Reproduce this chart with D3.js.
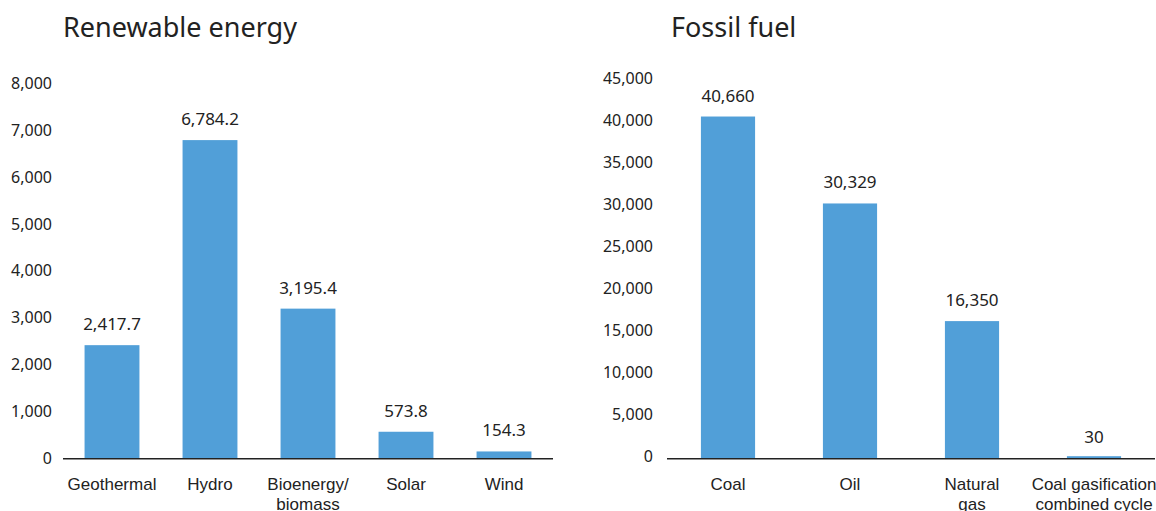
<!DOCTYPE html>
<html>
<head>
<meta charset="utf-8">
<script src="https://cdn.jsdelivr.net/npm/d3@7"></script>
<style>
  html, body { margin: 0; padding: 0; background: #fff; }
  svg { display: block; font-family: "Noto Sans", "Open Sans", sans-serif; }
</style>
</head>
<body>
<svg id="chart" width="1156" height="511"></svg>
<script>
// Installed capacity by source
const renewableCategories = ["Geothermal", "Hydro", "Bioenergy/\nbiomass", "Solar", "Wind"];
const renewableValues = [2417.7, 6784.2, 3195.4, 573.8, 154.3];
const renewableTicks = [0, 1000, 2000, 3000, 4000, 5000, 6000, 7000, 8000];

const fossilCategories = ["Coal", "Oil", "Natural\ngas", "Coal gasification\ncombined cycle"];
const fossilValues = [40660, 30329, 16350, 30];
const fossilTicks = [0, 5000, 10000, 15000, 20000, 25000, 30000, 35000, 40000, 45000];

const barColor = "#519fd8";
const textColor = "#222";
const minBarHeight = 2.5; // keep tiny values visible above the baseline

const svg = d3.select("#chart");

function panel(cfg) {
  const g = svg.append("g");

  const x = d3.scaleBand()
    .domain(cfg.categories)
    .range([cfg.x0, cfg.x1])
    .paddingInner(cfg.padInner)
    .paddingOuter(cfg.padInner / 2);

  const y = d3.scaleLinear()
    .domain([0, cfg.max])
    .range([cfg.yBase, cfg.yTop]);

  const barH = d => Math.max(y(0) - y(d), d > 0 ? minBarHeight : 0);

  // title
  g.append("text")
    .attr("x", cfg.titleX)
    .attr("y", 37)
    .attr("font-size", 27)
    .attr("fill", textColor)
    .text(cfg.title);

  // y axis labels (no axis line, no ticks)
  const yAxis = d3.axisLeft(y)
    .tickValues(cfg.ticks)
    .tickFormat(d3.format(","))
    .tickSize(0)
    .tickPadding(0);
  const ya = g.append("g")
    .attr("transform", `translate(${cfg.labelX},0)`)
    .call(yAxis);
  ya.select(".domain").remove();
  ya.selectAll("text")
    .attr("font-family", "'Noto Sans', 'Open Sans', sans-serif")
    .attr("font-size", 16)
    .attr("fill", textColor)
    .attr("dy", cfg.tickDy);

  // bars
  g.selectAll("rect.bar")
    .data(cfg.values)
    .join("rect")
    .attr("class", "bar")
    .attr("x", (d, i) => x(cfg.categories[i]))
    .attr("width", x.bandwidth())
    .attr("y", d => y(0) - barH(d))
    .attr("height", d => barH(d))
    .attr("fill", barColor);

  // value labels
  g.selectAll("text.value")
    .data(cfg.values)
    .join("text")
    .attr("class", "value")
    .attr("x", (d, i) => x(cfg.categories[i]) + x.bandwidth() / 2)
    .attr("y", d => y(d) - 15)
    .attr("text-anchor", "middle")
    .attr("font-size", 17)
    .attr("fill", textColor)
    .text(d => cfg.fmt(d));

  // baseline
  g.append("line")
    .attr("x1", cfg.x0)
    .attr("x2", cfg.x1)
    .attr("y1", y(0))
    .attr("y2", y(0))
    .attr("stroke", "#222")
    .attr("stroke-width", 1.5);

  // category labels
  const xAxis = d3.axisBottom(x).tickSize(0).tickPadding(0).tickFormat("");
  const xa = g.append("g")
    .attr("transform", `translate(0,${y(0)})`)
    .call(xAxis);
  xa.select(".domain").remove();
  xa.selectAll(".tick").each(function (d) {
    const t = d3.select(this).append("text")
      .attr("text-anchor", "middle")
      .attr("font-size", 17)
      .attr("fill", textColor);
    d.split("\n").forEach((line, i) => {
      t.append("tspan")
        .attr("x", 0)
        .attr("y", 31 + i * 20)
        .text(line);
    });
  });
}

panel({
  title: "Renewable energy",
  titleX: 63,
  categories: renewableCategories,
  values: renewableValues,
  ticks: renewableTicks,
  max: 8000,
  x0: 63, x1: 553,
  padInner: 0.44,
  yBase: 458.7, yTop: 83,
  labelX: 52,
  tickDy: "0.32em",
  fmt: d3.format(",.1f")
});

panel({
  title: "Fossil fuel",
  titleX: 671,
  categories: fossilCategories,
  values: fossilValues,
  ticks: fossilTicks,
  max: 45000,
  x0: 667, x1: 1155,
  padInner: 0.556,
  yBase: 458.7, yTop: 80,
  labelX: 653,
  tickDy: "0.2em",
  fmt: d3.format(",.0f")
});
</script>
</body>
</html>
